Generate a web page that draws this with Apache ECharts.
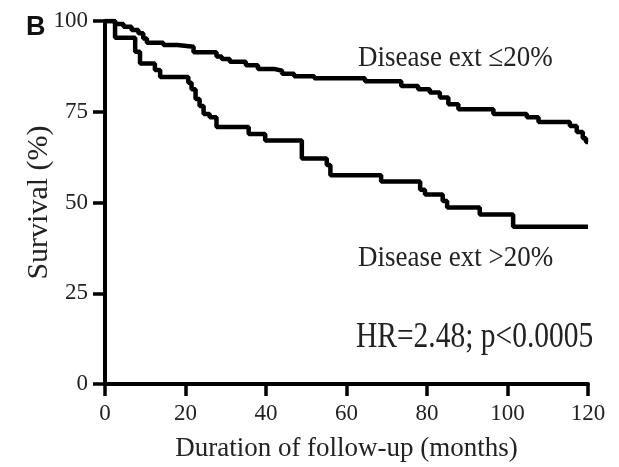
<!DOCTYPE html>
<html>
<head>
<meta charset="utf-8">
<script src="https://cdn.jsdelivr.net/npm/echarts@6/dist/echarts.min.js"></script>
<style>
  html, body { margin: 0; padding: 0; background: #fff; }
  #chart { width: 619px; height: 467px; }
</style>
</head>
<body>
<div id="chart"></div>
<script>
// Kaplan-Meier curves, [month, survival %]
const lowExtent = [
  [0, 100], [2.5, 99.2], [4.6, 98.4], [6.6, 97.5], [8.3, 96.6], [9.5, 95.2],
  [10.4, 94], [14.5, 93.4], [18, 92.9], [22, 91.4], [27.7, 90.2], [29, 89.5],
  [31, 88.8], [35, 87.8], [38, 86.8], [42, 86.3], [44, 85.5], [47, 84.8],
  [52, 84.2], [64.6, 83.4], [73.6, 82.1], [77.8, 81.2], [80.7, 80.3],
  [83.2, 78.9], [85.3, 77.1], [87.8, 75.7], [96.5, 74.4], [104.8, 73.5],
  [107.7, 72.2], [115.5, 71.1], [117.2, 69.4], [118.7, 67.7], [119.5, 66.7],
  [120, 66.7]
]
const highExtent = [
  [0, 100], [2.5, 95.4], [7.5, 91.5], [8.7, 88.3], [12.4, 86.5], [13.7, 84.6],
  [20.7, 83], [21.5, 81.2], [22.5, 78.5], [23.5, 76.6], [24.5, 74.4],
  [26, 73.5], [27.7, 70.8], [35.7, 68.9], [39.8, 67.1], [48.9, 62.1],
  [55.1, 60.3], [56, 57.5], [68.6, 55.8], [78.3, 53.5], [79.5, 52.2],
  [83.9, 50.4], [85, 48.6], [93.1, 46.7], [101.4, 43.3], [120, 43.3]
]
const xTicks = [0, 20, 40, 60, 80, 100, 120]
const yTicks = [0, 25, 50, 75, 100]
const labels = ['Disease ext \u226420%', 'Disease ext >20%', 'HR=2.48; p<0.0005']

const serif = '"Liberation Serif", "DejaVu Serif", serif'
const chart = echarts.init(document.getElementById('chart'))

const axisCommon = {
  axisLine: { show: true, lineStyle: { color: '#000', width: 4 } },
  axisTick: { show: true, length: 12, lineStyle: { color: '#000', width: 3.5 } },
  axisLabel: { color: '#222', fontFamily: serif, fontSize: 23 },
  splitLine: { show: false },
  nameMoveOverlap: false,
  nameTextStyle: { color: '#222', fontFamily: serif, fontSize: 27 }
}

const option = {
  backgroundColor: '#fff',
  animation: false,
  grid: { left: 105, right: 31, top: 21, bottom: 80.5 },
  xAxis: Object.assign({}, axisCommon, {
    type: 'value',
    min: xTicks[0],
    max: xTicks[xTicks.length - 1],
    interval: 20,
    name: 'Duration of follow-up (months)',
    nameLocation: 'middle',
    nameGap: 51,
    axisLabel: Object.assign({}, axisCommon.axisLabel, { margin: 18 })
  }),
  yAxis: Object.assign({}, axisCommon, {
    type: 'value',
    min: yTicks[0],
    max: yTicks[yTicks.length - 1],
    interval: 25,
    name: 'Survival (%)',
    nameLocation: 'middle',
    nameGap: 51,
    nameTextStyle: Object.assign({}, axisCommon.nameTextStyle, { fontSize: 30 }),
    axisLabel: Object.assign({}, axisCommon.axisLabel, { margin: 17 })
  }),
  series: [
    {
      type: 'line',
      step: 'end',
      data: lowExtent,
      showSymbol: false,
      lineStyle: { color: '#000', width: 4.5 },
      z: 3
    },
    {
      type: 'line',
      step: 'end',
      data: highExtent,
      showSymbol: false,
      lineStyle: { color: '#000', width: 4.5 },
      z: 3
    }
  ],
  graphic: [
    {
      type: 'text', left: 26, top: 14,
      style: { text: 'B', font: 'bold 27px "Liberation Sans", Arial, sans-serif', fill: '#111' }
    },
    {
      type: 'text', left: 358, top: 43, scaleY: 1.12,
      style: { text: labels[0], font: '27px ' + serif, fill: '#222' }
    },
    {
      type: 'text', left: 358, top: 243, scaleY: 1.12,
      style: { text: labels[1], font: '27px ' + serif, fill: '#222' }
    },
    {
      type: 'text', left: 356, top: 320, scaleY: 1.2,
      style: { text: labels[2], font: '29.5px ' + serif, fill: '#222' }
    }
  ]
}

chart.setOption(option)
</script>
</body>
</html>
